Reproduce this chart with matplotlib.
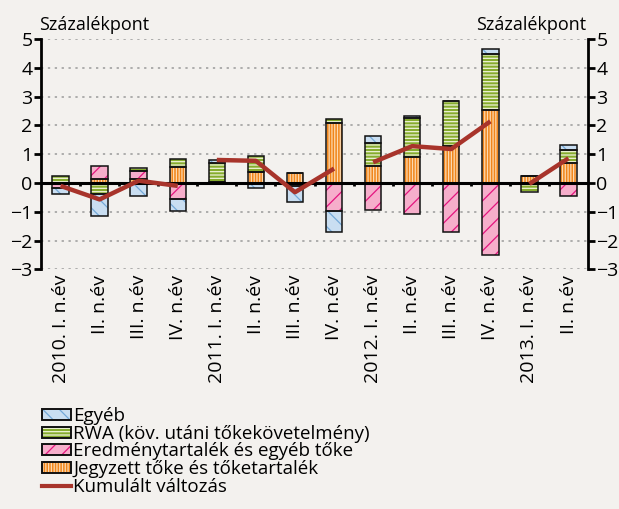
import numpy as np
import matplotlib
matplotlib.use("Agg")
import matplotlib.pyplot as plt
from matplotlib.patches import Patch
from matplotlib.lines import Line2D
from matplotlib.legend_handler import HandlerTuple

plt.rcParams["font.family"] = ["Open Sans", "DejaVu Sans"]
plt.rcParams["hatch.linewidth"] = 0.9

# Quarterly categories
categories = ["2010. I. n.év", "II. n.év", "III. n.év", "IV. n.év",
              "2011. I. n.év", "II. n.év", "III. n.év", "IV. n.év",
              "2012. I. n.év", "II. n.év", "III. n.év", "IV. n.év",
              "2013. I. n.év", "II. n.év"]
years = [2010] * 4 + [2011] * 4 + [2012] * 4 + [2013] * 2

# Contributions (percentage points)
jegyzett = [0.00, 0.13, 0.14, 0.55, 0.04, 0.38, 0.33, 2.10, 0.60, 0.91, 1.28, 2.54, 0.23, 0.71]
eredmeny = [-0.17, 0.47, 0.26, -0.55, 0.00, 0.00, -0.10, -0.96, -0.94, -1.09, -1.70, -2.50, 0.00, -0.46]
rwa = [0.25, -0.38, 0.12, 0.30, 0.65, 0.55, 0.00, 0.12, 0.80, 1.34, 1.57, 1.93, -0.30, 0.44]
egyeb = [-0.22, -0.77, -0.45, -0.42, 0.11, -0.18, -0.55, -0.74, 0.24, 0.09, 0.00, 0.17, 0.00, 0.17]
kumulalt = [-0.10, -0.57, 0.08, -0.10, 0.80, 0.77, -0.32, 0.50, 0.72, 1.28, 1.18, 2.14, -0.03, 0.86]

bg = "#F3F1EE"
series = [
    ("Jegyzett tőke és tőketartalék", jegyzett, "#F0851A", "#FCD9B0", "||||||"),
    ("Eredménytartalék és egyéb tőke", eredmeny, "#F6AECB", "#E4157F", "//"),
    ("RWA (köv. utáni tőkekövetelmény)", rwa, "#86AC2E", "#EEF2D8", "-----"),
    ("Egyéb", egyeb, "#C9DEF1", "#74A9D8", "\\\\"),
]
line_color = "#A8342B"

fig = plt.figure(figsize=(6.19, 5.09), dpi=100, facecolor=bg)
ax = fig.add_axes([0.0662, 0.4707, 0.8838, 0.4527], facecolor=bg)

x = np.arange(len(categories))
width = 0.42
pos_bottom = np.zeros(len(x))
neg_bottom = np.zeros(len(x))
handles = {}
for name, vals, fc, hc, hatch in series:
    v = np.array(vals, dtype=float)
    bottom = np.where(v >= 0, pos_bottom, neg_bottom)
    ax.bar(x, v, width, bottom=bottom, color=fc, edgecolor=hc, hatch=hatch,
           linewidth=0, zorder=3)
    ax.bar(x, v, width, bottom=bottom, fill=False, edgecolor="#111111",
           linewidth=1.1, zorder=4)
    pos_bottom = pos_bottom + np.where(v > 0, v, 0)
    neg_bottom = neg_bottom + np.where(v < 0, v, 0)
    handles[name] = (Patch(facecolor=fc, edgecolor=hc, hatch=hatch, linewidth=0),
                     Patch(fill=False, edgecolor="#111111", linewidth=1.4))

# Cumulative change, restarting every year
yrs = np.array(years)
kum = np.array(kumulalt)
for yv in sorted(set(years)):
    idx = np.where(yrs == yv)[0]
    ax.plot(x[idx], kum[idx], color=line_color, linewidth=3.2,
            solid_capstyle="butt", zorder=5)

# Zero line with small ticks between quarters
ax.axhline(0, color="black", linewidth=2.2, zorder=4.5)
bounds = np.arange(len(x) + 1) - 0.5
ax.vlines(bounds[1:-1], -0.1, 0, color="black", linewidth=2, zorder=2)

ax.set_xlim(-0.5, len(x) - 0.5)
ax.set_ylim(-3, 5)
ax.set_yticks(np.arange(-3, 6))
ax.set_yticklabels([str(v).replace("-", "\u2212") for v in range(-3, 6)])
ax.yaxis.grid(True, linestyle=(0, (1.5, 3)), color="#9A9A9A", linewidth=1.1, zorder=0)
ax.tick_params(axis="y", which="both", direction="out", length=5, width=2,
               labelsize=14, pad=1, left=True, right=True,
               labelleft=True, labelright=True)
ax.set_xticks(x)
ax.set_xticklabels(categories, rotation=90, fontsize=14)
ax.tick_params(axis="x", length=0, pad=4)

for side in ["top", "bottom"]:
    ax.spines[side].set_visible(False)
for side in ["left", "right"]:
    ax.spines[side].set_linewidth(2)

fig.text(0.063, 0.950, "Százalékpont", fontsize=13, ha="left", va="center")
fig.text(0.947, 0.950, "Százalékpont", fontsize=13, ha="right", va="center")

order = ["Egyéb", "RWA (köv. utáni tőkekövetelmény)",
         "Eredménytartalék és egyéb tőke", "Jegyzett tőke és tőketartalék"]
leg_handles = [handles[n] for n in order] + [Line2D([], [], color=line_color, linewidth=3)]
leg_labels = order + ["Kumulált változás"]
fig.legend(leg_handles, leg_labels, loc="upper left",
           bbox_to_anchor=(0.068, 0.2), frameon=False, fontsize=13.5,
           handlelength=1.55, handleheight=0.55, handletextpad=0.1,
           labelspacing=-0.02, borderpad=0, borderaxespad=0,
           handler_map={tuple: HandlerTuple(ndivide=1, pad=0)})

fig.savefig("out.png", dpi=100, facecolor=bg)
